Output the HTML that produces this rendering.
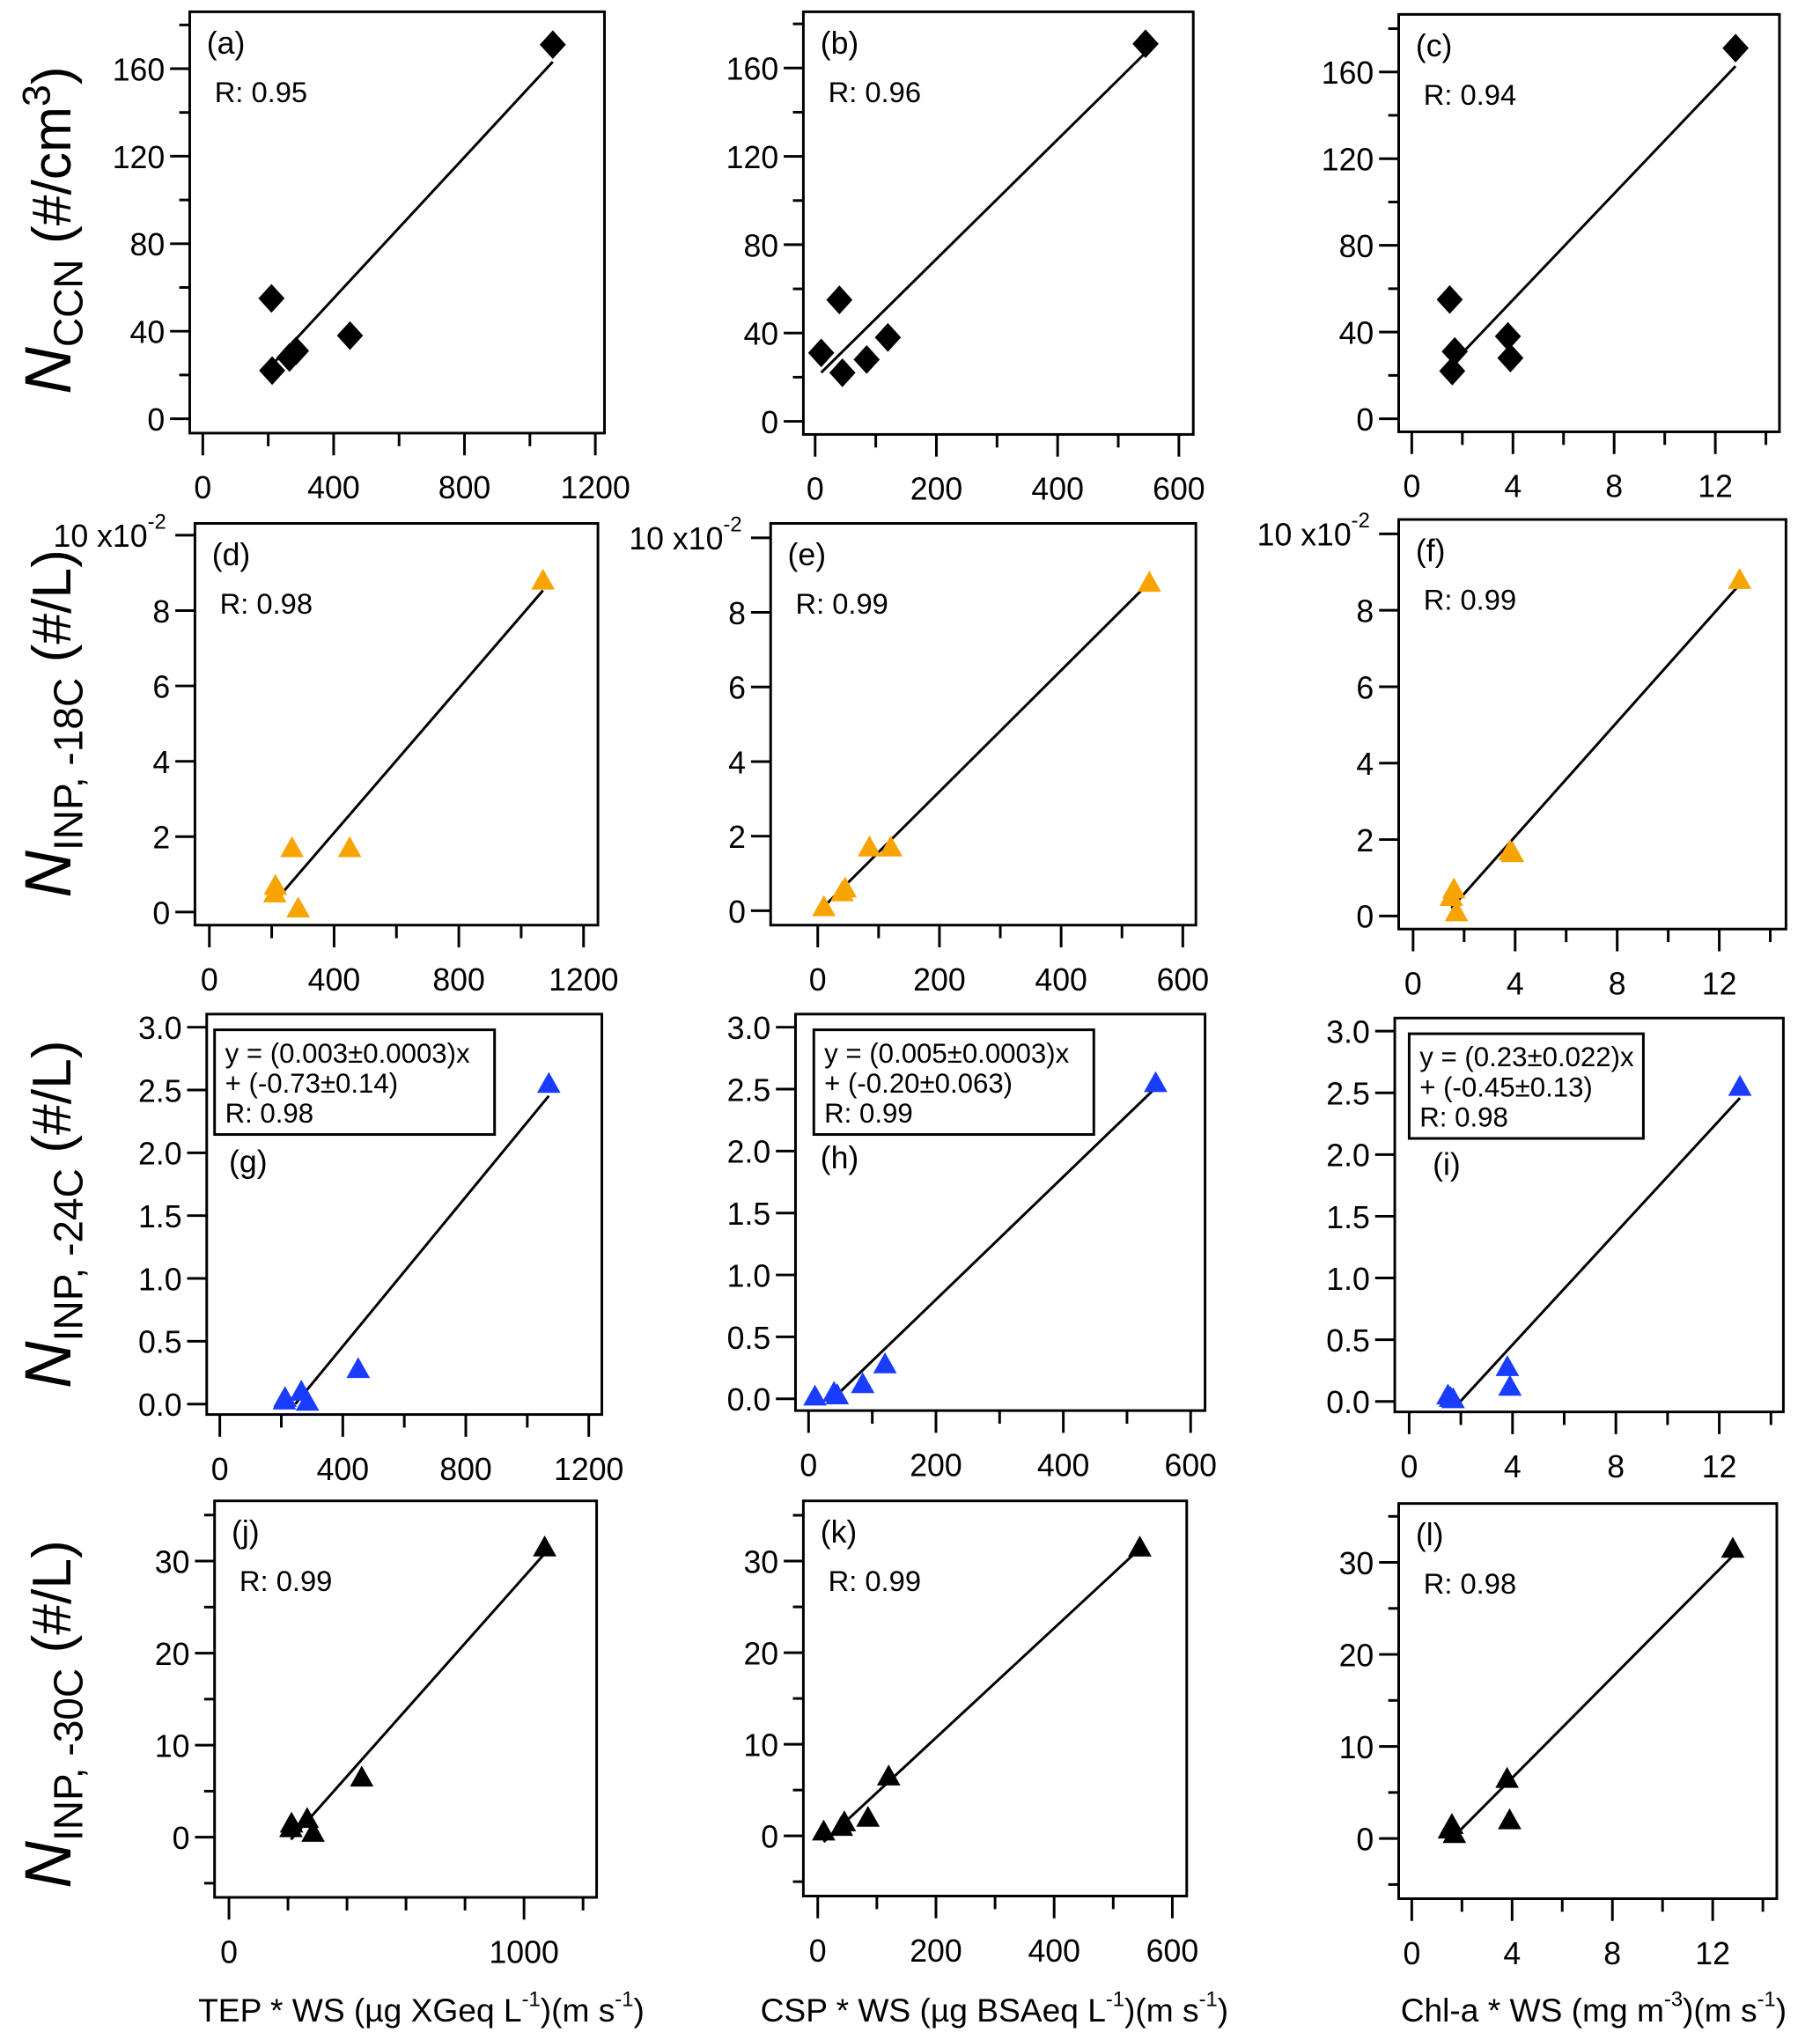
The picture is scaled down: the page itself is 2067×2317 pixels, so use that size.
<!DOCTYPE html>
<html><head><meta charset="utf-8"><style>
html,body{margin:0;padding:0;background:#fff;}
svg{display:block;font-family:"Liberation Sans",Arial,sans-serif;}
</style></head><body>
<svg id="fig" width="2067" height="2317" viewBox="0 0 1391 1559" preserveAspectRatio="none" xmlns="http://www.w3.org/2000/svg">
<g id="titles">
<text transform="translate(54,176) rotate(-90)" text-anchor="middle" font-size="42"><tspan font-style="italic" font-size="50">N</tspan><tspan font-size="31" dy="9">CCN</tspan><tspan dy="-9"> (#/cm</tspan><tspan font-size="30" dy="-16">3</tspan><tspan dy="16">)</tspan></text>
<text transform="translate(54,553) rotate(-90)" text-anchor="middle" font-size="42"><tspan font-style="italic" font-size="50">N</tspan><tspan font-size="31" dy="9">INP, -18C</tspan><tspan dy="-9"> (#/L)</tspan></text>
<text transform="translate(54,928) rotate(-90)" text-anchor="middle" font-size="42"><tspan font-style="italic" font-size="50">N</tspan><tspan font-size="31" dy="9">INP, -24C</tspan><tspan dy="-9"> (#/L)</tspan></text>
<text transform="translate(54,1310) rotate(-90)" text-anchor="middle" font-size="42"><tspan font-style="italic" font-size="50">N</tspan><tspan font-size="31" dy="9">INP, -30C</tspan><tspan dy="-9"> (#/L)</tspan></text>
<text x="322" y="1545" text-anchor="middle" font-size="25">TEP * WS (µg XGeq  L<tspan font-size="16" dy="-12">-1</tspan><tspan dy="12">)(m s</tspan><tspan font-size="16" dy="-12">-1</tspan><tspan dy="12">)</tspan></text>
<text x="760" y="1545" text-anchor="middle" font-size="25">CSP * WS (µg BSAeq  L<tspan font-size="16" dy="-12">-1</tspan><tspan dy="12">)(m s</tspan><tspan font-size="16" dy="-12">-1</tspan><tspan dy="12">)</tspan></text>
<text x="1218" y="1545" text-anchor="middle" font-size="25">Chl-a * WS  (mg m<tspan font-size="16" dy="-12">-3</tspan><tspan dy="12">)(m s</tspan><tspan font-size="16" dy="-12">-1</tspan><tspan dy="12">)</tspan></text>
</g>
</svg>
<script>
// ---- data ----
const col1X = [210, 212, 265, 285, 450, 1070];
const col2X = [10, 40, 45, 85, 120, 545];
const col3X = [1.5, 1.6, 1.7, 3.8, 3.9, 12.8];
const aY = [55, 22, 28, 31, 38, 171];
const bY = [31, 55, 22, 28, 38, 171];
const cY = [55, 22, 31, 38, 28, 171];
const dY = [0.5, 0.7, 1.7, 0.1, 1.7, 8.8];
const eY = [0.1, 0.5, 0.6, 1.7, 1.7, 8.8];
const fY = [0.5, 0.7, 0.1, 1.7, 1.65, 8.8];
const gY = [0.03, 0.05, 0.1, 0.02, 0.28, 2.55];
const hY = [0.02, 0.05, 0.03, 0.12, 0.28, 2.55];
const iY = [0.05, 0.03, 0.02, 0.28, 0.12, 2.55];
const jY = [1, 1.5, 2, 0.5, 6.5, 31.5];
const kY = [0.5, 1, 1.5, 2, 6.5, 31.5];
const lY = [1, 1.5, 0.5, 6.5, 2, 31.5];
const panelLabels = ["(a)","(b)","(c)","(d)","(e)","(f)","(g)","(h)","(i)","(j)","(k)","(l)"];
const rTexts = ["R: 0.95","R: 0.96","R: 0.94","R: 0.98","R: 0.99","R: 0.99","R: 0.98","R: 0.99","R: 0.98","R: 0.99","R: 0.99","R: 0.98"];
const eqLine1 = ["y = (0.003±0.0003)x","y = (0.005±0.0003)x","y = (0.23±0.022)x"];
const eqLine2 = ["+ (-0.73±0.14)","+ (-0.20±0.063)","+ (-0.45±0.13)"];
const xTicks1 = [0, 400, 800, 1200];
const xTicks1j = [0, 1000];
const xTicks2 = [0, 200, 400, 600];
const xTicks3 = [0, 4, 8, 12];
const yTicksCCN = [0, 40, 80, 120, 160];
const yTicks18 = [0, 2, 4, 6, 8, 10];
const yTicks24 = [0, 0.5, 1.0, 1.5, 2.0, 2.5, 3.0];
const yTicks30 = [0, 10, 20, 30];

const NS = "http://www.w3.org/2000/svg";
const svg = document.getElementById('fig');
function el(tag, attrs, parent){const e=document.createElementNS(NS,tag);for(const k in attrs)e.setAttribute(k,attrs[k]);(parent||svg).appendChild(e);return e;}

const ORANGE="#f7a400", BLUE="#1a3cff";
const panels = [
 {f:[145,9,462,331], xm:[0,155,1200,455], ym:[0,320,160,52.5], xs:col1X, ys:aY, xt:xTicks1, xmin:200, yt:yTicksCCN, ymin:20, yRange:[-10,180], m:'d', c:'#000'},
 {f:[614,9,912,332], xm:[0,623,600,901], ym:[0,322,160,52], xs:col2X, ys:bY, xt:xTicks2, xmin:100, yt:yTicksCCN, ymin:20, yRange:[-10,180], m:'d', c:'#000'},
 {f:[1069,11,1360,330], xm:[0,1079,12,1311], ym:[0,320,160,55], xs:col3X, ys:cY, xt:xTicks3, xmin:2, yt:yTicksCCN, ymin:20, yRange:[-10,180], m:'d', c:'#000'},
 {f:[149,400,457,707], xm:[0,160,1200,446], ym:[0,697,10,409], xs:col1X, ys:dY, xt:xTicks1, xmin:200, yt:yTicks18, ymin:0, yRange:[-0.3,10], m:'t', c:ORANGE, exp:true},
 {f:[589,400,914,707], xm:[0,625,600,904], ym:[0,696,10,411], xs:col2X, ys:eY, xt:xTicks2, xmin:100, yt:yTicks18, ymin:0, yRange:[-0.3,10], m:'t', c:ORANGE, exp:true},
 {f:[1069,397,1365,710], xm:[0,1080,12,1314], ym:[0,700,10,408], xs:col3X, ys:fY, xt:xTicks3, xmin:2, yt:yTicks18, ymin:0, yRange:[-0.3,10], m:'t', c:ORANGE, exp:true},
 {f:[158,775,460,1081], xm:[0,168,1200,450], ym:[0,1073,3,785], xs:col1X, ys:gY, xt:xTicks1, xmin:200, yt:yTicks24, ymin:0, yRange:[0,3], m:'t', c:BLUE, eq:0, box:[164,787,378,867], lab:[175,896]},
 {f:[608,775,921,1078], xm:[0,618,600,910], ym:[0,1069,3,785], xs:col2X, ys:hY, xt:xTicks2, xmin:100, yt:yTicks24, ymin:0, yRange:[0,3], m:'t', c:BLUE, eq:1, box:[622,787,836,867], lab:[627,893]},
 {f:[1066,778,1363,1079], xm:[0,1077,12,1314], ym:[0,1071,3,788], xs:col3X, ys:iY, xt:xTicks3, xmin:2, yt:yTicks24, ymin:0, yRange:[0,3], m:'t', c:BLUE, eq:2, box:[1077,790,1256,870], lab:[1095,898]},
 {f:[164,1147,456,1450], xm:[0,175,1000,400.5], ym:[0,1404,30,1193], xs:col1X, ys:jY, xt:xTicks1j, xmin:200, yt:yTicks30, ymin:5, yRange:[-5,35], m:'t', c:'#000'},
 {f:[614,1147,907,1449], xm:[0,625,600,896], ym:[0,1403,30,1193], xs:col2X, ys:kY, xt:xTicks2, xmin:100, yt:yTicks30, ymin:5, yRange:[-5,35], m:'t', c:'#000'},
 {f:[1069,1149,1358,1451], xm:[0,1079,12,1309], ym:[0,1405,30,1194], xs:col3X, ys:lY, xt:xTicks3, xmin:2, yt:yTicks30, ymin:5, yRange:[-5,35], m:'t', c:'#000'}
];

function fmtY(v, set){ if(set===yTicks24) return v.toFixed(1); return String(v); }

panels.forEach((p, idx)=>{
  const g = el('g', {});
  
  
  const X = v => p.xm[1] + (v - p.xm[0]) * (p.xm[3]-p.xm[1])/(p.xm[2]-p.xm[0]);
  const Y = v => p.ym[1] + (v - p.ym[0]) * (p.ym[3]-p.ym[1])/(p.ym[2]-p.ym[0]);
  const [L,T,R,B] = p.f;
  const fr = el('rect', {x:L, y:T, width:R-L, height:B-T, fill:'none', stroke:'#000', 'stroke-width':2}, g);
  
  
  const xmaxV = p.xm[0] + (R - p.xm[1]) * (p.xm[2]-p.xm[0])/(p.xm[3]-p.xm[1]);
  for(let v=0; v<=xmaxV+1e-9; v+=p.xmin){
    const major = p.xt.some(t=>Math.abs(t-v)<1e-9);
    el('line', {x1:X(v), x2:X(v), y1:B, y2:B+(major?17:10), stroke:'#000','stroke-width':2}, g);
  }
  p.xt.forEach(v=>{
    const t = el('text', {x:X(v), y:B+50, 'text-anchor':'middle', 'font-size':24}, g);
    
    
    t.textContent = String(v);
  });
  if(p.ymin){
    const start = Math.ceil(p.yRange[0]/p.ymin - 1e-9)*p.ymin;
    for(let v=start; v<=p.yRange[1]+1e-9; v+=p.ymin){
      const major = p.yt.some(t=>Math.abs(t-v)<1e-9);
      if(!major) el('line', {x1:L-8, x2:L, y1:Y(v), y2:Y(v), stroke:'#000','stroke-width':2}, g);
    }
  }
  p.yt.forEach(v=>{
    el('line', {x1:L-15, x2:L, y1:Y(v), y2:Y(v), stroke:'#000','stroke-width':2}, g);
    const t = el('text', {x:L-19, y:Y(v)+9, 'text-anchor':'end', 'font-size':24}, g);
    
    
    if(p.exp && v===10){
      t.innerHTML = '10 x10<tspan font-size="16" dy="-14">-2</tspan>';
      t.setAttribute('x', L-22);
    } else t.textContent = fmtY(v, p.yt);
  });
  const n = p.xs.length;
  const mx = p.xs.reduce((a,b)=>a+b,0)/n, my = p.ys.reduce((a,b)=>a+b,0)/n;
  let sxy=0,sxx=0; for(let i=0;i<n;i++){sxy+=(p.xs[i]-mx)*(p.ys[i]-my);sxx+=(p.xs[i]-mx)**2;}
  const slope = sxy/sxx, icpt = my - slope*mx;
  let x0 = Math.min(...p.xs); const x1 = Math.max(...p.xs);
  if(icpt + slope*x0 < p.yRange[0]) x0 = (p.yRange[0]-icpt)/slope;
  const fl = el('line', {x1:X(x0), y1:Y(icpt+slope*x0), x2:X(x1), y2:Y(icpt+slope*x1), stroke:'#000','stroke-width':2}, g);
  
  
  for(let i=0;i<n;i++){
    const cx = X(p.xs[i]), cy = Y(p.ys[i]);
    let mk;
    if(p.m==='d') mk = el('polygon', {points:`${cx},${cy-11} ${cx+10},${cy} ${cx},${cy+11} ${cx-10},${cy}`, fill:p.c}, g);
    else mk = el('polygon', {points:`${cx},${cy-9} ${cx+9},${cy+7} ${cx-9},${cy+7}`, fill:p.c}, g);
    
    
  }
  if(p.eq !== undefined){
    const [bx,by,bx2,by2] = p.box;
    const bxr = el('rect', {x:bx, y:by, width:bx2-bx, height:by2-by, fill:'#fff', stroke:'#000','stroke-width':2}, g);
    
    
    [eqLine1[p.eq], eqLine2[p.eq], rTexts[idx]].forEach((s,k)=>{
      const t = el('text', {x:bx+8, y:by+25+k*23, 'font-size':21}, g);
      
      
      t.textContent = s;
    });
    const pl = el('text', {x:p.lab[0], y:p.lab[1], 'font-size':24}, g);
    
    
    pl.textContent = panelLabels[idx];
  } else {
    const pl = el('text', {x:L+13, y:T+32, 'font-size':24}, g);
    
    
    pl.textContent = panelLabels[idx];
    const rt = el('text', {x:L+19, y:T+69, 'font-size':22}, g);
    
    
    rt.textContent = rTexts[idx];
  }
});
</script>
</body></html>
